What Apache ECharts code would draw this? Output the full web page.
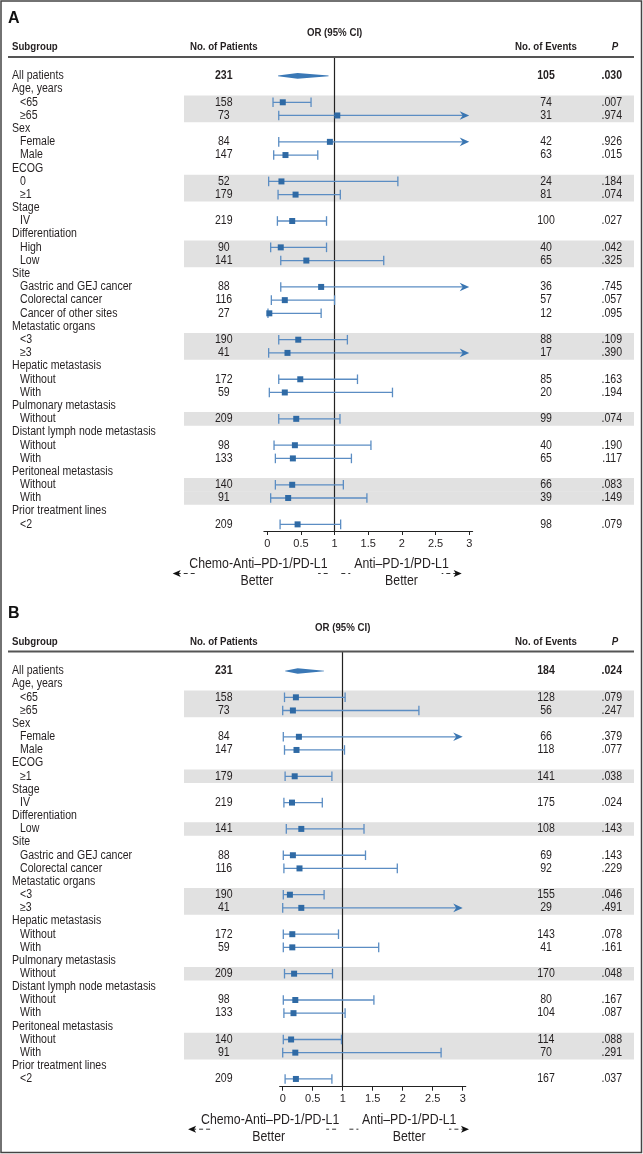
<!DOCTYPE html>
<html><head><meta charset="utf-8">
<script src="https://cdn.jsdelivr.net/npm/echarts@6/dist/echarts.min.js"></script>
<style>html,body{margin:0;padding:0;background:#fff}#c{width:643px;height:1154px}</style>
</head><body><div id="c"></div><script>
// ---------------- DATA: Panel A ----------------
const labelsA = ['All patients','Age, years','<65','≥65','Sex','Female','Male','ECOG','0','≥1','Stage','IV','Differentiation','High','Low','Site','Gastric and GEJ cancer','Colorectal cancer','Cancer of other sites','Metastatic organs','<3','≥3','Hepatic metastasis','Without','With','Pulmonary metastasis','Without','Distant lymph node metastasis','Without','With','Peritoneal metastasis','Without','With','Prior treatment lines','<2'];
const patientsA = ['231',null,'158','73',null,'84','147',null,'52','179',null,'219',null,'90','141',null,'88','116','27',null,'190','41',null,'172','59',null,'209',null,'98','133',null,'140','91',null,'209'];
const eventsA = ['105',null,'74','31',null,'42','63',null,'24','81',null,'100',null,'40','65',null,'36','57','12',null,'88','17',null,'85','20',null,'99',null,'40','65',null,'66','39',null,'98'];
const pvalA = ['.030',null,'.007','.974',null,'.926','.015',null,'.184','.074',null,'.027',null,'.042','.325',null,'.745','.057','.095',null,'.109','.390',null,'.163','.194',null,'.074',null,'.190','.117',null,'.083','.149',null,'.079'];
const orA = [0.45,null,0.23,1.04,null,0.93,0.27,null,0.21,0.42,null,0.37,null,0.20,0.58,null,0.80,0.26,0.03,null,0.46,0.30,null,0.49,0.26,null,0.43,null,0.41,0.38,null,0.37,0.31,null,0.45];
const loA = [0.16,null,0.085,0.17,null,0.17,0.095,null,0.02,0.16,null,0.15,null,0.05,0.20,null,0.20,0.06,0.01,null,0.17,0.02,null,0.17,0.03,null,0.17,null,0.10,0.12,null,0.12,0.05,null,0.19];
const hiA = [0.91,null,0.65,3,null,3,0.75,null,1.94,1.085,null,0.88,null,0.88,1.73,null,3,1.0,0.80,null,1.19,3,null,1.34,1.86,null,1.08,null,1.54,1.25,null,1.13,1.48,null,1.09];
const beyondA = [3,5,16,21];          // rows whose upper CI runs past 3 (arrow)
const shadedA = [2,3,8,9,13,14,20,21,26,31,32];

// ---------------- DATA: Panel B ----------------
const labelsB = ['All patients','Age, years','<65','≥65','Sex','Female','Male','ECOG','≥1','Stage','IV','Differentiation','Low','Site','Gastric and GEJ cancer','Colorectal cancer','Metastatic organs','<3','≥3','Hepatic metastasis','Without','With','Pulmonary metastasis','Without','Distant lymph node metastasis','Without','With','Peritoneal metastasis','Without','With','Prior treatment lines','<2'];
const patientsB = ['231',null,'158','73',null,'84','147',null,'179',null,'219',null,'141',null,'88','116',null,'190','41',null,'172','59',null,'209',null,'98','133',null,'140','91',null,'209'];
const eventsB = ['184',null,'128','56',null,'66','118',null,'141',null,'175',null,'108',null,'69','92',null,'155','29',null,'143','41',null,'170',null,'80','104',null,'114','70',null,'167'];
const pvalB = ['.024',null,'.079','.247',null,'.379','.077',null,'.038',null,'.024',null,'.143',null,'.143','.229',null,'.046','.491',null,'.078','.161',null,'.048',null,'.167','.087',null,'.088','.291',null,'.037'];
const orB = [0.25,null,0.22,0.17,null,0.27,0.23,null,0.20,null,0.155,null,0.31,null,0.17,0.28,null,0.12,0.31,null,0.16,0.16,null,0.19,null,0.21,0.18,null,0.14,0.21,null,0.22];
const loB = [0.04,null,0.03,0.0,null,0.01,0.03,null,0.04,null,0.02,null,0.06,null,0.01,0.02,null,0.01,0.0,null,0.01,0.01,null,0.03,null,0.01,0.02,null,0.01,0.0,null,0.04];
const hiB = [0.69,null,1.04,2.27,null,3,1.03,null,0.82,null,0.66,null,1.355,null,1.38,1.91,null,0.69,3,null,0.93,1.6,null,0.83,null,1.52,1.04,null,0.98,2.64,null,0.82];
const beyondB = [5,18];
const shadedB = [2,3,8,12,17,18,23,28,29];

const tickValues = [0,0.5,1,1.5,2,2.5,3];
const headerCols = ['Subgroup','No. of Patients','No. of Events','P'];
const dirLeft = ['Chemo-Anti–PD-1/PD-L1','Better'];
const dirRight = ['Anti–PD-1/PD-L1','Better'];

// ---------------- STYLE / LAYOUT ----------------
const FONT = '"Liberation Sans", Arial, sans-serif';
const SX = 0.88; // horizontal condensing of text
const C_TEXT = '#231f20', C_LINE = '#5b8dc3', C_SQ = '#2f6aa5', C_BAND = '#e1e1e1';
const P = [
  {name:'A', off:0, x0:267.3, unit:67.3, rowY0:75.9, rowH:13.19, top:57, bottom:531,
   labels:labelsA, patients:patientsA, events:eventsA, pval:pvalA, or:orA, lo:loA, hi:hiA, beyond:beyondA, shaded:shadedA},
  {name:'B', off:595, x0:282.7, unit:60, rowY0:671, rowH:13.16, top:651.6, bottom:1086.7,
   labels:labelsB, patients:patientsB, events:eventsB, pval:pvalB, or:orB, lo:loB, hi:hiB, beyond:beyondB, shaded:shadedB}
];
const COL_LABEL = 12, COL_SUB = 20, COL_PAT = 223.8, COL_EVT = 546, COL_P = 622;
const BAND_X1 = 184, BAND_X2 = 634;

const chart = echarts.init(document.getElementById('c'), null, {renderer:'canvas'});
const grids = [], xAxes = [], yAxes = [], series = [], graphics = [];

function txt(text, x, y, o, sx) {
  return {type:'text', x, y, scaleX:(sx == null ? SX : sx), z:10,
    style:Object.assign({text, x:0, y:0, fontFamily:FONT, fontSize:12, fill:C_TEXT, align:'left', verticalAlign:'middle'}, o||{})};
}

P.forEach((p, k) => {
  grids.push({left:p.x0 - 0.05*p.unit, width:3.1*p.unit, top:p.top, height:p.bottom - p.top});
  xAxes.push({type:'value', gridIndex:k, min:-0.05, max:3.05,
    axisLine:{show:true, onZero:false, lineStyle:{color:'#222', width:1.2}},
    axisTick:{show:true, length:4, customValues:tickValues, lineStyle:{color:'#222', width:1}},
    axisLabel:{show:true, customValues:tickValues, fontFamily:FONT, fontSize:11, color:C_TEXT, margin:7},
    splitLine:{show:false}});
  yAxes.push({type:'value', gridIndex:k, inverse:true, show:false,
    min:(p.top - p.rowY0)/p.rowH, max:(p.bottom - p.rowY0)/p.rowH});

  // shaded bands
  series.push({type:'custom', xAxisIndex:k, yAxisIndex:k, z:1, silent:true,
    data:p.shaded.map(r => [0, r]), encode:{x:0, y:1},
    renderItem:(params, api) => {
      const y = api.coord([0, api.value(1)])[1];
      return {type:'rect', shape:{x:BAND_X1, y:y - p.rowH/2 - 0.2, width:BAND_X2 - BAND_X1, height:p.rowH + 0.4}, style:{fill:C_BAND}};
    }});

  // text columns
  series.push({type:'custom', xAxisIndex:k, yAxisIndex:k, z:5, silent:true,
    data:p.labels.map((l, i) => [0, i]), encode:{x:0, y:1},
    renderItem:(params, api) => {
      const i = params.dataIndex;
      const y = api.coord([0, api.value(1)])[1];
      const head = p.patients[i] == null;
      const kids = [txt(p.labels[i], (head || i === 0) ? COL_LABEL : COL_SUB, y)];
      if (!head) {
        const fw = i === 0 ? 'bold' : 'normal';
        kids.push(txt(p.patients[i], COL_PAT, y, {align:'center', fontWeight:fw}));
        kids.push(txt(p.events[i], COL_EVT, y, {align:'center', fontWeight:fw}));
        kids.push(txt(p.pval[i], COL_P, y, {align:'right', fontWeight:fw}));
      }
      return {type:'group', children:kids};
    }});

  // CI whiskers and squares
  const ciData = [];
  p.or.forEach((v, i) => { if (v != null && i > 0) ciData.push([i, p.lo[i], v, p.hi[i], p.beyond.includes(i) ? 1 : 0]); });
  series.push({type:'custom', xAxisIndex:k, yAxisIndex:k, z:6, silent:true, data:ciData,
    encode:{x:[1,2,3], y:0},
    renderItem:(params, api) => {
      const row = api.value(0);
      const pl = api.coord([api.value(1), row]), pe = api.coord([api.value(2), row]), ph = api.coord([api.value(3), row]);
      const tr = api.value(4) === 1;
      const y = pe[1], cap = 4.8, s = 6, ls = {stroke:C_LINE, lineWidth:1.3};
      const kids = [
        {type:'line', shape:{x1:pl[0], y1:y, x2:tr ? ph[0] - 5 : ph[0], y2:y}, style:ls},
        {type:'line', shape:{x1:pl[0], y1:y - cap, x2:pl[0], y2:y + cap}, style:ls}
      ];
      if (tr) kids.push({type:'polygon', shape:{points:[[ph[0], y], [ph[0] - 9.5, y - 4.3], [ph[0] - 6.5, y], [ph[0] - 9.5, y + 4.3]]}, style:{fill:'#3a76b2'}});
      else kids.push({type:'line', shape:{x1:ph[0], y1:y - cap, x2:ph[0], y2:y + cap}, style:ls});
      kids.push({type:'rect', shape:{x:pe[0] - s/2, y:y - s/2, width:s, height:s}, style:{fill:C_SQ}});
      return {type:'group', children:kids};
    },
    markLine:{silent:true, symbol:['none','none'], label:{show:false},
      lineStyle:{color:'#222', width:1.2, type:'solid'}, data:[{xAxis:1}]}
  });

  // overall diamond
  series.push({type:'custom', xAxisIndex:k, yAxisIndex:k, z:6, silent:true,
    data:[[0, p.lo[0], p.or[0], p.hi[0]]], encode:{x:[1,2,3], y:0},
    renderItem:(params, api) => {
      const row = api.value(0);
      const a = api.coord([api.value(1), row]), c = api.coord([api.value(2), row]), b = api.coord([api.value(3), row]);
      return {type:'polygon', shape:{points:[[a[0], a[1] - 0.3], [c[0], c[1] - 2.8], [b[0], b[1] - 0.3], [b[0], b[1] + 0.3], [c[0], c[1] + 2.8], [a[0], a[1] + 0.3]]}, style:{fill:'#3a78b6'}};
    }});

  // decorations & headers
  const o = p.off;
  const oneX = p.x0 + p.unit;
  graphics.push(txt(p.name, 8, 18.5 + o, {fontSize:16, fontWeight:'bold', fill:'#111'}, 1));
  graphics.push(txt('OR (95% CI)', oneX, 33 + o, {align:'center', fontSize:11, fontWeight:'bold'}));
  graphics.push(txt(headerCols[0], COL_LABEL, 47 + o, {fontSize:11, fontWeight:'bold'}));
  graphics.push(txt(headerCols[1], COL_PAT, 47 + o, {align:'center', fontSize:11, fontWeight:'bold'}));
  graphics.push(txt(headerCols[2], COL_EVT, 47 + o, {align:'center', fontSize:11, fontWeight:'bold'}));
  graphics.push(txt(headerCols[3], COL_P - 7, 47 + o, {align:'center', fontSize:11, fontWeight:'bold', fontStyle:'italic'}));
  graphics.push({type:'line', shape:{x1:8, y1:p.top, x2:634, y2:p.top}, style:{stroke:'#555', lineWidth:2}, z:10});

  // direction arrows
  const ay = p.bottom + 42.5;
  const lTip = p.x0 - 94.6, lEnd = oneX - 6.5, rStart = oneX + 6.7, rTip = p.x0 + 194.4 + (k ? -8.1 : 0);
  const dash = {stroke:'#333', lineWidth:1, lineDash:[4,3]};
  graphics.push({type:'line', shape:{x1:lTip + 4, y1:ay, x2:lEnd, y2:ay}, style:dash, z:3});
  graphics.push({type:'line', shape:{x1:rStart, y1:ay, x2:rTip - 4, y2:ay}, style:dash, z:3});
  graphics.push({type:'polygon', shape:{points:[[lTip, ay], [lTip + 8, ay - 3.5], [lTip + 6, ay], [lTip + 8, ay + 3.5]]}, style:{fill:'#111'}, z:3});
  graphics.push({type:'polygon', shape:{points:[[rTip, ay], [rTip - 8, ay - 3.5], [rTip - 6, ay], [rTip - 8, ay + 3.5]]}, style:{fill:'#111'}, z:3});
  const lc = (lTip + lEnd) / 2 + 8, rc = (rStart + rTip) / 2;
  graphics.push({type:'rect', shape:{x:lTip + 23, y:ay - 6, width:lEnd - lTip - 33, height:12}, style:{fill:'#fff'}, z:4});
  graphics.push({type:'rect', shape:{x:rStart + 9, y:ay - 6, width:rTip - rStart - 29, height:12}, style:{fill:'#fff'}, z:4});
  graphics.push(txt(dirLeft[0], lc, ay - 9.5, {align:'center', fontSize:14}, 0.88));
  graphics.push(txt(dirLeft[1], lc - 1.5, ay + 7.5, {align:'center', fontSize:14}, 0.88));
  graphics.push(txt(dirRight[0], rc, ay - 9.5, {align:'center', fontSize:14}, 0.88));
  graphics.push(txt(dirRight[1], rc, ay + 7.5, {align:'center', fontSize:14}, 0.88));
});

// outer frame
graphics.push({type:'rect', shape:{x:1, y:1, width:640.5, height:1151.5}, style:{fill:'none', stroke:'#444', lineWidth:1.5}, z:20});

chart.setOption({
  backgroundColor:'#fff',
  animation:false,
  grid:grids, xAxis:xAxes, yAxis:yAxes, series:series,
  graphic:{elements:graphics}
});
</script></body></html>
